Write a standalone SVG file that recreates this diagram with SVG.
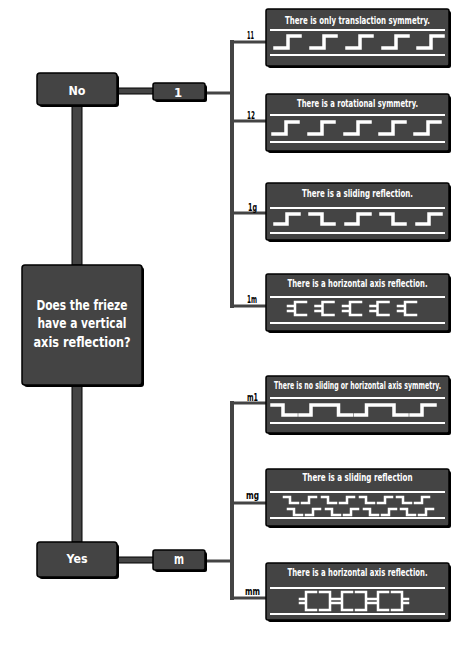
<svg xmlns="http://www.w3.org/2000/svg" width="457" height="647" viewBox="0 0 457 647">
<style>
.bx{fill:#444;stroke:#000;stroke-width:1.5}
.sh{fill:#000}
.stem{fill:#444;stroke:#000;stroke-width:1}
.wt{fill:#fff;font-family:"DejaVu Sans Condensed","DejaVu Sans",sans-serif;font-weight:bold;text-anchor:middle}
.hd{font-size:7.5px}
.lb{fill:#000;font-family:"DejaVu Sans Condensed","DejaVu Sans",sans-serif;font-weight:bold;font-size:11px}
.ln{stroke:#fff;stroke-width:2;fill:none}
.pt{stroke:#fff;stroke-width:3.5;fill:none;stroke-linecap:square;stroke-linejoin:miter}
.pt2{stroke:#fff;stroke-width:2.5;fill:none;stroke-linecap:square;stroke-linejoin:miter}
.cn{stroke:#444;stroke-width:3;fill:none}
.cv{stroke:#444;stroke-width:4;fill:none}
</style>
<g id="connectors">
<rect class="stem" x="72" y="105" width="10" height="160"/>
<rect class="stem" x="72" y="385" width="10" height="157"/>
<rect class="stem" x="116" y="88" width="38" height="6"/>
<rect class="stem" x="116" y="557" width="38" height="6"/>
<path class="cn" d="M205,93H232M232,42H266M232,121H266M232,213H266M232,306H266"/>
<path class="cv" d="M232,40V308"/>
<path class="cn" d="M205,561H232M232,403H266M232,503H266M232,598H266"/>
<path class="cv" d="M232,401V600"/>
</g>
<g id="no">
<rect class="sh" x="39" y="75" width="80" height="32" rx="3"/>
<rect class="bx" x="37" y="73" width="80" height="32" rx="3"/>
<text class="wt" x="77" y="95" font-size="13" textLength="17" lengthAdjust="spacingAndGlyphs">No</text>
</g>
<g id="one">
<rect class="sh" x="155" y="85" width="52" height="17" rx="2"/>
<rect class="bx" x="153" y="83" width="52" height="17" rx="2"/>
<text class="wt" x="178" y="97" font-size="13">1</text>
</g>
<g id="question">
<rect class="sh" x="24" y="267" width="120" height="120" rx="3"/>
<rect class="bx" x="22" y="265" width="120" height="120" rx="3"/>
<text class="wt" x="82" y="310" font-size="14" textLength="91" lengthAdjust="spacingAndGlyphs">Does the frieze</text>
<text class="wt" x="82" y="328" font-size="14" textLength="89" lengthAdjust="spacingAndGlyphs">have a vertical</text>
<text class="wt" x="82" y="347" font-size="14" textLength="97" lengthAdjust="spacingAndGlyphs">axis reflection?</text>
</g>
<g id="yes">
<rect class="sh" x="39" y="544" width="80" height="35" rx="3"/>
<rect class="bx" x="37" y="542" width="80" height="35" rx="3"/>
<text class="wt" x="77" y="563" font-size="13" textLength="21" lengthAdjust="spacingAndGlyphs">Yes</text>
</g>
<g id="m">
<rect class="sh" x="155" y="552" width="52" height="20" rx="2"/>
<rect class="bx" x="153" y="550" width="52" height="20" rx="2"/>
<text class="wt" x="179" y="564" font-size="14" textLength="10" lengthAdjust="spacingAndGlyphs">m</text>
</g>
<g id="labels">
<text class="lb" x="247" y="39" textLength="7" lengthAdjust="spacingAndGlyphs">11</text>
<text class="lb" x="247" y="119" textLength="8" lengthAdjust="spacingAndGlyphs">12</text>
<text class="lb" x="248" y="211" textLength="9" lengthAdjust="spacingAndGlyphs">1g</text>
<text class="lb" x="247" y="303" textLength="10" lengthAdjust="spacingAndGlyphs">1m</text>
<text class="lb" x="247" y="401" textLength="11" lengthAdjust="spacingAndGlyphs">m1</text>
<text class="lb" x="246" y="499" textLength="13" lengthAdjust="spacingAndGlyphs">mg</text>
<text class="lb" x="245" y="595" textLength="15" lengthAdjust="spacingAndGlyphs">mm</text>
</g>
<g id="p11">
<rect class="sh" x="268" y="11" width="183" height="57" rx="2"/>
<rect class="bx" x="266" y="9" width="183" height="57" rx="2"/>
<text class="wt hd" transform="translate(357.5,24) scale(1,1.45)" textLength="145" lengthAdjust="spacingAndGlyphs">There is only translaction symmetry.</text>
<path class="ln" d="M270,30H445M270,55H445"/>
<path class="pt" d="M275,48h13V36h12M311,48h13V36h12M347,48h13V36h12M383,48h13V36h12M418,48h13V36h12"/>
</g>
<g id="p12">
<rect class="sh" x="268" y="96" width="183" height="57" rx="2"/>
<rect class="bx" x="266" y="94" width="183" height="57" rx="2"/>
<text class="wt hd" transform="translate(357.5,107) scale(1,1.45)" textLength="121" lengthAdjust="spacingAndGlyphs">There is a rotational symmetry.</text>
<path class="ln" d="M270,115H445M270,142H445"/>
<path class="pt" d="M273,134h13V122h12M309,134h13V122h12M345,134h13V122h12M380,134h13V122h12M415,134h13V122h12"/>
</g>
<g id="p1g">
<rect class="sh" x="268" y="185" width="183" height="57" rx="2"/>
<rect class="bx" x="266" y="183" width="183" height="57" rx="2"/>
<text class="wt hd" transform="translate(357.5,197) scale(1,1.45)" textLength="111" lengthAdjust="spacingAndGlyphs">There is a sliding reflection.</text>
<path class="ln" d="M270,208H445M270,233H445"/>
<path class="pt" d="M275,224h12V214h12M310,214h12V224h12M346,224h12V214h12M381,214h12V224h12M417,224h12V214h12"/>
</g>
<g id="p1m">
<rect class="sh" x="268" y="276" width="183" height="57" rx="2"/>
<rect class="bx" x="266" y="274" width="183" height="57" rx="2"/>
<text class="wt hd" transform="translate(357.5,287) scale(1,1.45)" textLength="140" lengthAdjust="spacingAndGlyphs">There is a horizontal axis reflection.</text>
<path class="ln" d="M270,297H445M270,323H445"/>
<path class="pt2" d="M288,306h7M288,311h7M306,302h-11V315h11M315.5,306h7M315.5,311h7M333.5,302h-11V315h11M343,306h7M343,311h7M361,302h-11V315h11M370.5,306h7M370.5,311h7M388.5,302h-11V315h11M398,306h7M398,311h7M416,302h-11V315h11"/>
</g>
<g id="pm1">
<rect class="sh" x="268" y="378" width="183" height="57" rx="2"/>
<rect class="bx" x="266" y="376" width="183" height="57" rx="2"/>
<text class="wt" font-size="6.5" transform="translate(357.5,389) scale(1,1.65)" textLength="167" lengthAdjust="spacingAndGlyphs">There is no sliding or horizontal axis symmetry.</text>
<path class="ln" d="M270,398H445M270,423H445"/>
<path class="pt" d="M272,405h11V415h13M300,415h11V405h13M327.5,405h11V415h13M355.5,415h11V405h13M383,405h11V415h13M411,415h11V405h13"/>
</g>
<g id="pmg">
<rect class="sh" x="268" y="471" width="183" height="57" rx="2"/>
<rect class="bx" x="266" y="469" width="183" height="57" rx="2"/>
<text class="wt hd" transform="translate(357.5,481) scale(1,1.45)" textLength="110" lengthAdjust="spacingAndGlyphs">There is a sliding reflection</text>
<path class="ln" d="M270,492H445M270,518H445"/>
<path class="pt2" d="M284,497h6V503h8M302,503h7V497h7M322,497h6V503h8M340,503h7V497h7M360,497h6V503h8M378,503h7V497h7M397,497h6V503h8M415,503h7V497h7"/>
<path class="pt2" d="M288,509h6V515h8M306,515h7V509h7M326,509h6V515h8M344,515h7V509h7M364,509h6V515h8M382,515h7V509h7M401,509h6V515h8M419,515h7V509h7"/>
</g>
<g id="pmm">
<rect class="sh" x="268" y="565" width="183" height="57" rx="2"/>
<rect class="bx" x="266" y="563" width="183" height="57" rx="2"/>
<text class="wt hd" transform="translate(357.5,576) scale(1,1.45)" textLength="140" lengthAdjust="spacingAndGlyphs">There is a horizontal axis reflection.</text>
<path class="ln" d="M270,588H445M270,614H445"/>
<path class="pt2" d="M300,599h6M300,603h6M316,592h-10V610h10M320,592h10V610h-10M330,599h12M330,603h12M352,592h-10V610h10M356,592h10V610h-10M366,599h12M366,603h12M388,592h-10V610h10M392,592h10V610h-10M402,599h6M402,603h6"/>
</g>
</svg>
